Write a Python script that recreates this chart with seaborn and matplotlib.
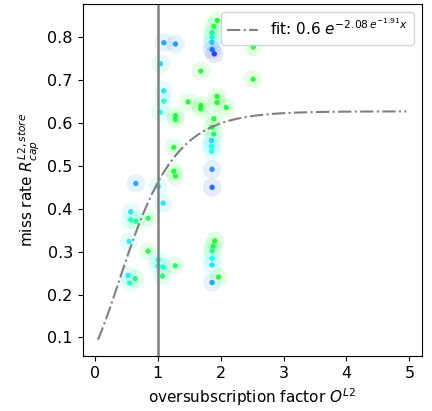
import numpy as np
import pandas as pd
import matplotlib
matplotlib.use("Agg")
import matplotlib.pyplot as plt
import seaborn as sns

# measured points: oversubscription factor, miss rate, colour (hsv hue)
oversub = [1.097, 1.283, 1.045, 1.097, 1.097, 1.045, 1.283, 1.283, 1.256, 1.256,
           1.283, 0.652, 1.006, 1.086, 0.572, 0.572, 0.652, 0.847, 0.545, 0.847,
           1.006, 1.006, 1.086, 1.280, 1.076, 0.529, 0.556, 0.644, 1.685, 1.483,
           1.685, 1.685, 1.944, 1.944, 2.091, 1.948, 1.892, 1.865, 1.865, 1.860,
           1.865, 1.900, 2.520, 2.517, 1.892, 1.865, 1.892, 1.855, 1.855, 1.855,
           1.865, 1.865, 1.908, 1.881, 1.865, 1.865, 1.865, 1.967, 1.865]
miss_rate = [0.787, 0.784, 0.738, 0.675, 0.651, 0.625, 0.617, 0.608, 0.543, 0.487,
             0.476, 0.459, 0.452, 0.413, 0.393, 0.374, 0.371, 0.378, 0.324, 0.301,
             0.281, 0.267, 0.264, 0.267, 0.243, 0.245, 0.227, 0.237, 0.721, 0.649,
             0.641, 0.633, 0.662, 0.648, 0.636, 0.839, 0.825, 0.811, 0.800, 0.788,
             0.771, 0.761, 0.777, 0.702, 0.610, 0.590, 0.574, 0.559, 0.546, 0.534,
             0.492, 0.450, 0.325, 0.313, 0.302, 0.284, 0.269, 0.241, 0.228]
hue = [0.58, 0.59, 0.54, 0.53, 0.47, 0.48, 0.36, 0.37, 0.35, 0.35,
       0.37, 0.58, 0.52, 0.53, 0.53, 0.46, 0.42, 0.38, 0.52, 0.37,
       0.50, 0.48, 0.47, 0.38, 0.40, 0.52, 0.47, 0.40, 0.35, 0.35,
       0.35, 0.36, 0.35, 0.35, 0.35, 0.35, 0.37, 0.42, 0.46, 0.55,
       0.62, 0.66, 0.35, 0.35, 0.36, 0.37, 0.38, 0.54, 0.50, 0.50,
       0.60, 0.63, 0.35, 0.37, 0.42, 0.49, 0.53, 0.34, 0.58]

# fit parameters (label shows rounded amplitude)
fit_a = 0.627
fit_b = 2.08
fit_c = 1.91
fit_label = r"fit: $0.6\ e^{-2.08\,e^{-1.91}x}$"

df = pd.DataFrame({"oversub": oversub, "miss_rate": miss_rate, "hue": hue})

fit_x = np.linspace(0.05, 4.95, 200)
fit_df = pd.DataFrame({"x": fit_x, "y": fit_a * np.exp(-fit_b * np.exp(-fit_c * fit_x))})

plt.rcParams["xtick.labelsize"] = 11.5
plt.rcParams["ytick.labelsize"] = 11.5
plt.rcParams["axes.labelsize"] = 11

fig = plt.figure(figsize=(4.32, 4.11), dpi=100)
ax = fig.add_axes([0.191, 0.134, 0.785, 0.856])

# faint halos, then the dots
sns.scatterplot(data=df, x="oversub", y="miss_rate", hue="hue", palette="hsv",
                hue_norm=(0, 1), s=180, alpha=0.1, linewidth=0, legend=False, ax=ax)
sns.scatterplot(data=df, x="oversub", y="miss_rate", hue="hue", palette="hsv",
                hue_norm=(0, 1), s=15, alpha=0.8, linewidth=0, legend=False, ax=ax)

ax.axvline(1.0, color="grey", lw=1.8, zorder=1)
sns.lineplot(data=fit_df, x="x", y="y", color="grey", lw=1.5, linestyle="-.",
             label=fit_label, ax=ax)

ax.set_xlim(-0.195, 5.195)
ax.set_ylim(0.057, 0.877)
ax.set_xticks([0, 1, 2, 3, 4, 5])
ax.set_yticks([0.1, 0.2, 0.3, 0.4, 0.5, 0.6, 0.7, 0.8])
ax.set_xlabel(r"oversubscription factor $O^{L2}$")
ax.set_ylabel(r"miss rate $R_{cap}^{L2,store}$")
ax.legend(loc="upper right", fontsize=11)

fig.savefig("out.png", dpi=100)
